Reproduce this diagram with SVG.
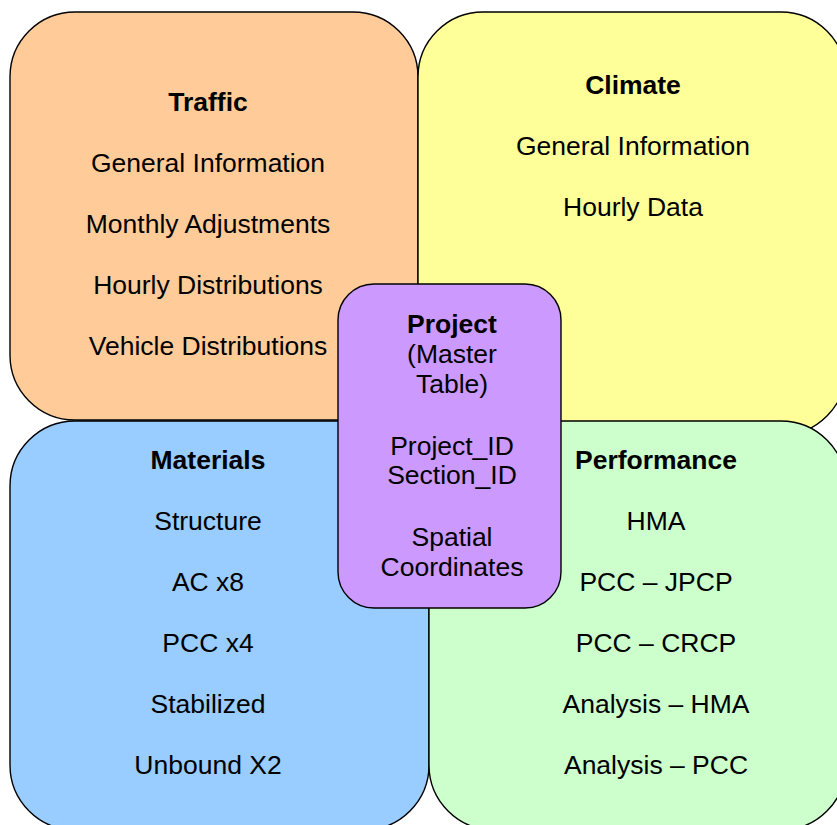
<svg xmlns="http://www.w3.org/2000/svg" width="837" height="825" viewBox="0 0 837 825">
  <style>
    .box { stroke: #000; stroke-width: 1.4; }
    text { font-family: "Liberation Sans", Arial, sans-serif; font-size: 26.5px; fill: #000; text-anchor: middle; }
    .title { font-weight: bold; }
  </style>
  <rect x="0" y="0" width="837" height="825" fill="#fff"/>

  <g id="traffic">
    <rect class="box" x="10" y="12" width="408" height="408" rx="65" ry="65" fill="#FFCC99"/>
    <text class="title" x="208" y="111">Traffic</text>
    <text x="208" y="172">General Information</text>
    <text x="208" y="233">Monthly Adjustments</text>
    <text x="208" y="294">Hourly Distributions</text>
    <text x="208" y="355">Vehicle Distributions</text>
  </g>

  <g id="climate">
    <rect class="box" x="418" y="12" width="428" height="423" rx="65" ry="65" fill="#FFFF99"/>
    <text class="title" x="633" y="94">Climate</text>
    <text x="633" y="155">General Information</text>
    <text x="633" y="216">Hourly Data</text>
  </g>

  <g id="materials">
    <rect class="box" x="10" y="421" width="419" height="409" rx="65" ry="65" fill="#99CCFF"/>
    <text class="title" x="208" y="469">Materials</text>
    <text x="208" y="530">Structure</text>
    <text x="208" y="591">AC x8</text>
    <text x="208" y="652">PCC x4</text>
    <text x="208" y="713">Stabilized</text>
    <text x="208" y="774">Unbound X2</text>
  </g>

  <g id="performance">
    <rect class="box" x="429" y="421" width="417" height="409" rx="65" ry="65" fill="#CCFFCC"/>
    <text class="title" x="656" y="469">Performance</text>
    <text x="656" y="530">HMA</text>
    <text x="656" y="591">PCC – JPCP</text>
    <text x="656" y="652">PCC – CRCP</text>
    <text x="656" y="713">Analysis – HMA</text>
    <text x="656" y="774">Analysis – PCC</text>
  </g>

  <g id="project">
    <rect class="box" x="338" y="284" width="223" height="324" rx="36" ry="36" fill="#CC99FF"/>
    <text class="title" x="452" y="333">Project</text>
    <text x="452" y="363">(Master</text>
    <text x="452" y="393">Table)</text>
    <text x="452" y="455">Project_ID</text>
    <text x="452" y="484">Section_ID</text>
    <text x="452" y="546">Spatial</text>
    <text x="452" y="576">Coordinates</text>
  </g>

  <g id="connectors"></g>
</svg>
